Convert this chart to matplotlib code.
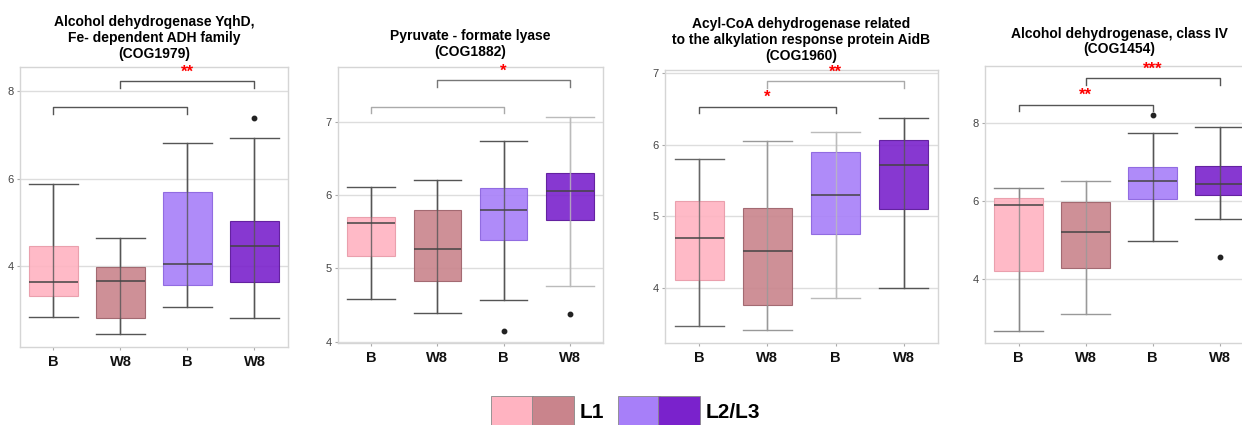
import matplotlib
matplotlib.use('Agg')
import matplotlib.pyplot as plt
from matplotlib.patches import Rectangle

plt.rcParams['font.family'] = ['Liberation Sans', 'DejaVu Sans']

# 데이터
groups = ['B', 'W8', 'B', 'W8']

titles = [
    'Alcohol dehydrogenase YqhD,\nFe- dependent ADH family\n(COG1979)',
    'Pyruvate - formate lyase\n(COG1882)',
    'Acyl-CoA dehydrogenase related\nto the alkylation response protein AidB\n(COG1960)',
    'Alcohol dehydrogenase, class IV\n(COG1454)',
]

medians = [
    [3.63, 3.66, 4.05, 4.45],
    [5.62, 5.27, 5.80, 6.05],
    [4.70, 4.52, 5.29, 5.71],
    [5.88, 5.20, 6.51, 6.42],
]
q1 = [
    [3.31, 2.82, 3.57, 3.63],
    [5.17, 4.83, 5.39, 5.66],
    [4.11, 3.76, 4.75, 5.10],
    [4.21, 4.28, 6.04, 6.14],
]
q3 = [
    [4.47, 3.98, 5.69, 5.02],
    [5.70, 5.80, 6.10, 6.30],
    [5.21, 5.12, 5.89, 6.07],
    [6.08, 5.97, 6.87, 6.90],
]
whislo = [
    [2.83, 2.44, 3.06, 2.82],
    [4.58, 4.39, 4.57, 4.76],
    [3.47, 3.41, 3.86, 4.00],
    [2.67, 3.10, 4.98, 5.52],
]
whishi = [
    [5.88, 4.65, 6.81, 6.93],
    [6.11, 6.20, 6.74, 7.07],
    [5.80, 6.05, 6.17, 6.37],
    [6.33, 6.50, 7.74, 7.89],
]
outliers = [
    [[], [], [], [7.39]],
    [[], [], [4.15], [4.37]],
    [[], [], [], []],
    [[], [], [8.20], [4.57]],
]

# 유의성 표시: (시작, 끝, 높이, 별표)
brackets = [
    [(2, 4, 8.23, '**'), (1, 3, 7.63, '')],
    [(2, 4, 7.57, '*'), (1, 3, 7.21, '')],
    [(2, 4, 6.88, '**'), (1, 3, 6.53, '*')],
    [(2, 4, 9.14, '***'), (1, 3, 8.47, '**')],
]

yticks = [[4, 6, 8], [4, 5, 6, 7], [4, 5, 6, 7], [4, 6, 8]]
ylims = [(2.15, 8.55), (3.98, 7.75), (3.23, 7.04), (2.35, 9.46)]

# 스타일
fills = ['#ffb3c1', '#c9848c', '#a77ff9', '#7a22cc']
edges = ['#e89aa8', '#9c6068', '#8a62de', '#5a1599']
whisk_colors = [
    ['#555555', '#555555', '#555555', '#555555'],
    ['#555555', '#555555', '#555555', '#bbbbbb'],
    ['#666666', '#999999', '#bbbbbb', '#555555'],
    ['#888888', '#999999', '#555555', '#555555'],
]
bracket_colors = [
    ['#555555', '#555555'],
    ['#777777', '#aaaaaa'],
    ['#aaaaaa', '#555555'],
    ['#555555', '#555555'],
]
positions = [
    (20, 67, 288, 347),
    (338, 67, 603, 343),
    (665, 70, 938, 343),
    (985, 66, 1253, 343),
]
title_y = [38, 44, 40, 41.5]

W, H = 1242, 425
fig = plt.figure(figsize=(W / 100, H / 100), dpi=100)

for i in range(4):
    l, t, r, b = positions[i]
    ax = fig.add_axes([l / W, 1 - b / H, (r - l) / W, (b - t) / H])
    stats = []
    for j in range(4):
        stats.append(dict(med=medians[i][j], q1=q1[i][j], q3=q3[i][j],
                          whislo=whislo[i][j], whishi=whishi[i][j],
                          fliers=outliers[i][j]))
    xs = [1, 2, 3, 4]
    # 상자를 관통하는 수염 선
    for j in range(4):
        ax.vlines(xs[j], whislo[i][j], whishi[i][j], color=whisk_colors[i][j],
                  lw=1.0, alpha=0.8, zorder=3.5)
    bp = ax.bxp(stats, positions=xs, widths=0.72, capwidths=0.72,
                patch_artist=True, showfliers=True)
    for j in range(4):
        box = bp['boxes'][j]
        box.set_facecolor(fills[j])
        box.set_alpha(0.9)
        box.set_edgecolor(edges[j])
        box.set_linewidth(0.8)
        box.set_zorder(3)
        bp['medians'][j].set_color('#444444')
        bp['medians'][j].set_linewidth(1.1)
        bp['medians'][j].set_zorder(4)
        for k in (2 * j, 2 * j + 1):
            bp['whiskers'][k].set_color(whisk_colors[i][j])
            bp['caps'][k].set_color(whisk_colors[i][j])
            bp['caps'][k].set_linewidth(1.0)
        bp['fliers'][j].set_marker('o')
        bp['fliers'][j].set_markerfacecolor('#222222')
        bp['fliers'][j].set_markeredgecolor('#222222')
        bp['fliers'][j].set_markersize(3.2)

    span = ylims[i][1] - ylims[i][0]
    tick = span * 0.025
    for n, (x0, x1, h, star) in enumerate(brackets[i]):
        c = bracket_colors[i][n]
        ax.plot([x0, x0, x1, x1], [h - tick, h, h, h - tick], color=c, lw=1.0,
                zorder=2)
        if star:
            ax.text((x0 + x1) / 2, h + span * 0.005, star, color='red',
                    fontsize=12, fontweight='bold', ha='center', va='bottom')

    ax.set_xlim(0.5, 4.5)
    ax.set_ylim(*ylims[i])
    ax.set_xticks(xs)
    ax.set_xticklabels(groups, fontsize=10.5, fontweight='bold', color='#111111')
    ax.set_yticks(yticks[i])
    ax.tick_params(axis='y', labelsize=8, labelcolor='#444444', length=2.5,
                   color='#aaaaaa', pad=2)
    ax.tick_params(axis='x', length=2.5, color='#aaaaaa', pad=3)
    ax.yaxis.grid(True, color='#dddddd', lw=1.0)
    ax.set_axisbelow(True)
    for s in ax.spines.values():
        s.set_color('#d5d5d5')
        s.set_linewidth(1.0)

    fig.text((l + r) / 2 / W, 1 - title_y[i] / H, titles[i], ha='center',
             va='center', fontsize=10, fontweight='bold', linespacing=1.15)

# 범례
legend_boxes = [(491, fills[0]), (532, fills[1]), (618, fills[2]), (658, fills[3])]
for x, c in legend_boxes:
    fig.patches.append(Rectangle((x / W, -0.02), 42 / W, 1 - 396 / H + 0.02,
                                 transform=fig.transFigure, facecolor=c,
                                 edgecolor='#888888', lw=0.6))
fig.text(580 / W, 1 - 412 / H, 'L1', fontsize=15, fontweight='bold', va='center')
fig.text(706 / W, 1 - 412 / H, 'L2/L3', fontsize=15, fontweight='bold', va='center')

plt.savefig('out.png', dpi=100, facecolor='white')
plt.close()
